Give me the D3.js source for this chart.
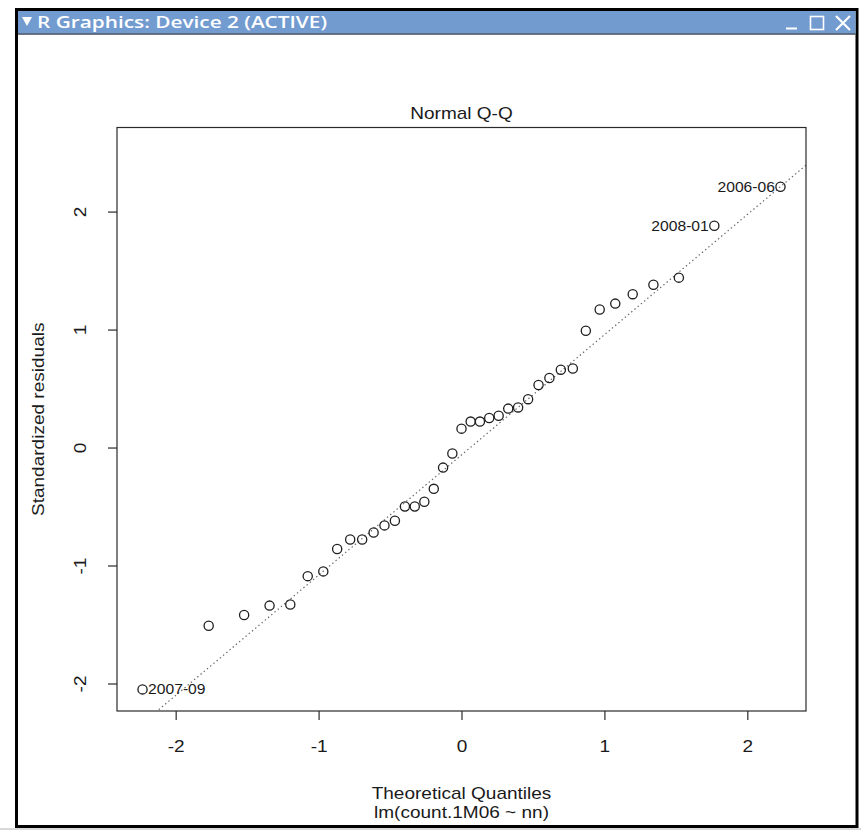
<!DOCTYPE html>
<html>
<head>
<meta charset="utf-8">
<script src="https://cdn.jsdelivr.net/npm/d3@7"></script>
<style>
  html, body { margin: 0; padding: 0; background: #fff; }
  svg { display: block; }
  text { font-family: "Liberation Sans", Arial, sans-serif; fill: #1a1a1a; }
</style>
</head>
<body>
<div id="chart"></div>
<script>
// theoretical quantiles (n = 39) and standardized residuals
const theoretical = [
  -2.232, -1.769, -1.521, -1.343, -1.198, -1.076, -0.967, -0.870, -0.779, -0.695,
  -0.615, -0.539, -0.466, -0.396, -0.327, -0.260, -0.194, -0.129, -0.064, 0,
  0.064, 0.129, 0.194, 0.260, 0.327, 0.396, 0.466, 0.539, 0.615, 0.695,
  0.779, 0.870, 0.967, 1.076, 1.198, 1.343, 1.521, 1.769, 2.232
];
const residuals = [
  -2.05, -1.51, -1.42, -1.34, -1.33, -1.09, -1.05, -0.86, -0.78, -0.78,
  -0.72, -0.66, -0.62, -0.50, -0.50, -0.46, -0.35, -0.17, -0.05, 0.16,
  0.22, 0.22, 0.25, 0.27, 0.33, 0.34, 0.41, 0.53, 0.59, 0.66,
  0.67, 0.99, 1.17, 1.22, 1.30, 1.38, 1.44, 1.88, 2.21
];
const labelIndex = [0, 37, 38];
const labelText = ['2007-09', '2008-01', '2006-06'];
const xTicks = [-2, -1, 0, 1, 2];
const yTicks = [-2, -1, 0, 1, 2];
// reference line through the quartiles
const lineIntercept = -0.063;
const lineSlope = 1.019;

const width = 861;
const height = 830;
const box = { left: 117, right: 806, top: 127.5, bottom: 711 };
const stretch = 'scale(1.12,1)';

const svg = d3.select('#chart')
  .append('svg')
  .attr('width', width)
  .attr('height', height);

svg.append('rect').attr('width', width).attr('height', height).attr('fill', '#fff');

// window frame
svg.append('rect')
  .attr('x', 16.5).attr('y', 9.5).attr('width', 840.5).attr('height', 817)
  .attr('fill', '#fff').attr('stroke', '#000').attr('stroke-width', 3);
svg.append('rect')
  .attr('x', 18).attr('y', 11).attr('width', 837.5).attr('height', 22.5)
  .attr('fill', '#729bd0');
svg.append('line')
  .attr('x1', 18).attr('x2', 855.5).attr('y1', 34).attr('y2', 34)
  .attr('stroke', '#3c4a5c').attr('stroke-width', 1.5);
svg.append('rect')
  .attr('x', 0).attr('y', 828).attr('width', width).attr('height', 2)
  .attr('fill', '#d8d8d8');

svg.append('path')
  .attr('d', 'M22,17 L32,17 L27,26 Z')
  .attr('fill', '#fff');
svg.append('text')
  .attr('x', 37).attr('y', 28)
  .attr('textLength', 290)
  .attr('lengthAdjust', 'spacingAndGlyphs')
  .style('font-family', '"Open Sans", "DejaVu Sans", sans-serif')
  .style('font-weight', 600)
  .style('font-size', '17px')
  .style('fill', '#fff')
  .text('R Graphics: Device 2 (ACTIVE)');

const btn = svg.append('g')
  .attr('fill', 'none').attr('stroke', '#fff').attr('stroke-width', 1.6);
btn.append('line').attr('x1', 786).attr('x2', 797).attr('y1', 28.5).attr('y2', 28.5).attr('stroke-width', 2);
btn.append('rect').attr('x', 810.5).attr('y', 16.5).attr('width', 13).attr('height', 13);
btn.append('path').attr('d', 'M836,16 L850,30 M850,16 L836,30').attr('stroke-width', 2.2);

// scales, R style: 4% padding, extra head room for the point labels
const xExt = d3.extent(theoretical);
const xPad = (xExt[1] - xExt[0]) * 0.04;
const xScale = d3.scaleLinear()
  .domain([xExt[0] - xPad, xExt[1] + xPad])
  .range([box.left, box.right]);

const yExt = d3.extent(residuals);
yExt[1] += (yExt[1] - yExt[0]) * 0.075;
const yPad = (yExt[1] - yExt[0]) * 0.04;
const yScale = d3.scaleLinear()
  .domain([yExt[0] - yPad, yExt[1] + yPad])
  .range([box.bottom, box.top]);

// reference line, clipped to the plot box
svg.append('clipPath').attr('id', 'plot-clip')
  .append('rect')
  .attr('x', box.left).attr('y', box.top)
  .attr('width', box.right - box.left).attr('height', box.bottom - box.top);

const [x0, x1] = xScale.domain();
svg.append('line')
  .attr('clip-path', 'url(#plot-clip)')
  .attr('x1', xScale(x0)).attr('y1', yScale(lineIntercept + lineSlope * x0))
  .attr('x2', xScale(x1)).attr('y2', yScale(lineIntercept + lineSlope * x1))
  .attr('stroke', '#666')
  .attr('stroke-width', 1.2)
  .attr('stroke-dasharray', '1.4,2.8');

// points
svg.append('g')
  .selectAll('circle')
  .data(theoretical)
  .join('circle')
  .attr('cx', (d) => xScale(d))
  .attr('cy', (d, i) => yScale(residuals[i]))
  .attr('r', 4.6)
  .attr('fill', 'none')
  .attr('stroke', '#1e1e1e')
  .attr('stroke-width', 1.3);

// point labels
const xMid = (x0 + x1) / 2;
svg.append('g')
  .selectAll('text')
  .data(labelIndex)
  .join('text')
  .attr('transform', (idx) => {
    const left = theoretical[idx] < xMid;
    const px = xScale(theoretical[idx]) + (left ? 5.5 : -5.5);
    return `translate(${px},${yScale(residuals[idx])}) ${stretch}`;
  })
  .attr('dy', '0.36em')
  .attr('text-anchor', (idx) => (theoretical[idx] < xMid ? 'start' : 'end'))
  .style('font-size', '14px')
  .text((idx, k) => labelText[k]);

// box
svg.append('rect')
  .attr('x', box.left).attr('y', box.top)
  .attr('width', box.right - box.left).attr('height', box.bottom - box.top)
  .attr('fill', 'none').attr('stroke', '#2a2a2a').attr('stroke-width', 1.2);

// axes
const xAxis = svg.append('g')
  .attr('transform', `translate(0,${box.bottom})`)
  .call(d3.axisBottom(xScale).tickValues(xTicks).tickSize(9).tickFormat((d) => String(d)));
const yAxis = svg.append('g')
  .attr('transform', `translate(${box.left},0)`)
  .call(d3.axisLeft(yScale).tickValues(yTicks).tickSize(9).tickFormat((d) => String(d)));

[xAxis, yAxis].forEach((g) => {
  g.select('.domain').remove();
  g.selectAll('.tick line').attr('stroke', '#2a2a2a').attr('stroke-width', 1.2);
  g.selectAll('.tick text')
    .style('font-size', '17px')
    .style('font-family', '"Liberation Sans", Arial, sans-serif')
    .attr('fill', '#1a1a1a');
});
xAxis.selectAll('.tick text')
  .attr('y', null).attr('dy', null)
  .attr('transform', `translate(0,41) ${stretch}`);
yAxis.selectAll('.tick text')
  .attr('x', null).attr('dy', null)
  .attr('text-anchor', 'middle')
  .attr('transform', `translate(-31,0) rotate(-90) ${stretch}`);

// titles
const midX = (box.left + box.right) / 2;
const midY = (box.top + box.bottom) / 2;
function addText(tr, str) {
  svg.append('text')
    .attr('transform', tr)
    .attr('text-anchor', 'middle')
    .style('font-size', '17px')
    .text(str);
}
addText(`translate(${midX},119) ${stretch}`, 'Normal Q-Q');
addText(`translate(${midX},799) ${stretch}`, 'Theoretical Quantiles');
addText(`translate(${midX},818) ${stretch}`, 'lm(count.1M06 ~ nn)');
addText(`translate(44,${midY}) rotate(-90) ${stretch}`, 'Standardized residuals');
</script>
</body>
</html>
